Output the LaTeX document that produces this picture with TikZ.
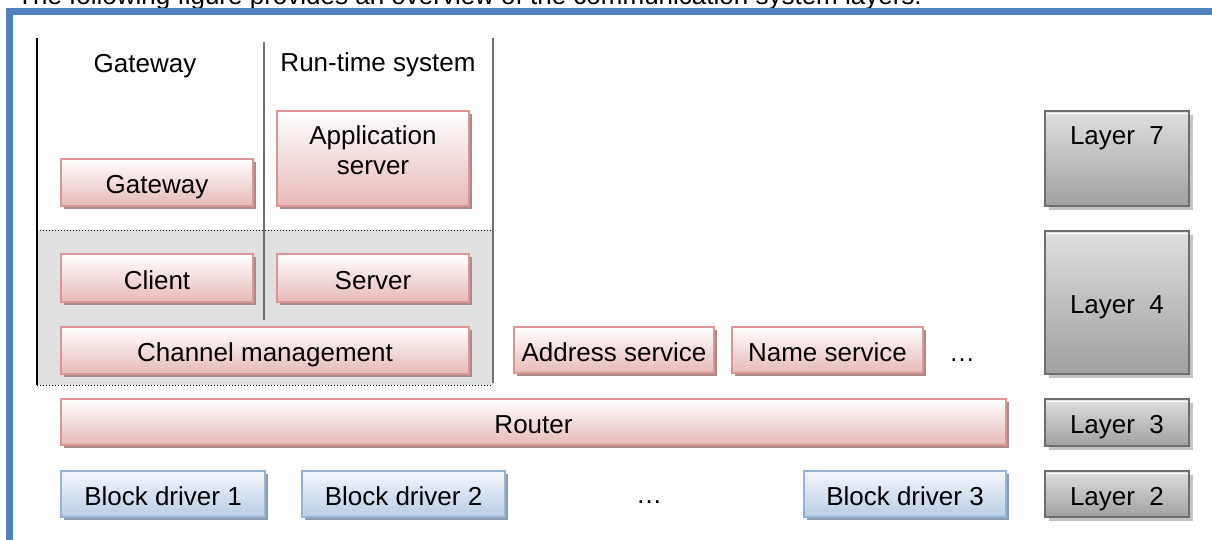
\documentclass[tikz,border=0pt]{standalone}
\usepackage{fontspec}
\setmainfont{Liberation Sans}
\usetikzlibrary{shadows}

\definecolor{frameblue}{HTML}{4F81BD}
\definecolor{pinkline}{HTML}{D99694}
\definecolor{pinktop}{HTML}{FFFFFF}
\definecolor{pinkbot}{HTML}{E6B9B8}
\definecolor{pinkshadow}{HTML}{A88A8A}
\definecolor{blueline}{HTML}{95B3D7}
\definecolor{bluetop}{HTML}{F4F7FB}
\definecolor{bluebot}{HTML}{B9CDE5}
\definecolor{blueshadow}{HTML}{8D9AAE}
\definecolor{grayline}{HTML}{6E6E6E}
\definecolor{graytop}{HTML}{DFDFDF}
\definecolor{graymid}{HTML}{D2D2D2}
\definecolor{graybot}{HTML}{A0A0A0}
\definecolor{grayshadow}{HTML}{C4C4C4}
\definecolor{zonegray}{HTML}{E0E0E0}
\definecolor{divider}{HTML}{707070}

\tikzset{
  boxbase/.style={inner sep=0pt, text height=22pt, text depth=0pt, line width=2pt},
  pinkbox/.style={boxbase, draw=pinkline, top color=pinktop, bottom color=pinkbot,
    drop shadow={shadow xshift=3pt, shadow yshift=-3pt, fill=pinkshadow, opacity=1}},
  bluebox/.style={boxbase, draw=blueline, top color=bluetop, bottom color=bluebot,
    drop shadow={shadow xshift=3pt, shadow yshift=-3pt, fill=blueshadow, opacity=1}},
  layerbox/.style={boxbase, line width=2.5pt, draw=grayline, top color=graytop,
    middle color=graymid, bottom color=graybot,
    drop shadow={shadow xshift=4pt, shadow yshift=-4pt, fill=grayshadow, opacity=1},
    path picture={\draw[white, line width=1.5pt]
      ([yshift=-2.5pt]path picture bounding box.north west) --
      ([yshift=-2.5pt]path picture bounding box.north east);}},
  caption/.style={anchor=base, inner sep=0pt},
}

\begin{document}
\begin{tikzpicture}[x=1pt, y=-1pt, font=\fontsize{26}{30}\selectfont]
\useasboundingbox (0,0) rectangle (1212,540);
\clip (0,0) rectangle (1212,540);

% introductory sentence, running off the top edge
\node[anchor=base west, inner sep=0pt] (intro) at (17,4.6)
  {The following figure provides an overview of the communication system layers.};

% frame
\draw[frameblue, line width=6.5pt] (9.5,560) -- (9.5,11.5) -- (1230,11.5);

% grey zone of layer 4 inside the left block
\fill[zonegray] (37,230) rectangle (493,385);
\draw[dotted, line width=1pt] (37,230) -- (493,230) (37,385) -- (493,385);

% column dividers
\draw[line width=1.3pt] (37,38) -- (37,385);
\draw[divider, line width=2pt] (264,42) -- (264,320);
\draw[divider, line width=2pt] (493,38) -- (493,383);

% column headings
\node[caption] (hgw) at (145,73) {Gateway};
\node[caption] (hrt) at (378,72) {Run-time system};

% layer 7
\node[pinkbox, minimum width=192pt, minimum height=47pt] (gw) at (157,182.5) {Gateway};
\node[pinkbox, minimum width=192pt, minimum height=95pt] (app) at (373,158.5) {};
\node[caption] (appa) at (373,145) {Application};
\node[caption] (apps) at (373,175) {server};

% layer 4
\node[pinkbox, minimum width=192pt, minimum height=48pt] (client) at (157,278) {Client};
\node[pinkbox, minimum width=192pt, minimum height=48pt] (server) at (373,278) {Server};
\node[pinkbox, minimum width=408pt, minimum height=47pt] (chan) at (265,350.5) {Channel management};
\node[pinkbox, minimum width=200pt, minimum height=46pt] (addr) at (614,350) {Address service};
\node[pinkbox, minimum width=191pt, minimum height=46pt] (name) at (827.5,350) {Name service};
\node[caption] (more4) at (962,361) {…};

% layer 3
\node[pinkbox, minimum width=945pt, minimum height=46pt] (router) at (533.5,422) {Router};

% layer 2
\node[bluebox, minimum width=204pt, minimum height=46pt] (bd1) at (163,494) {Block driver 1};
\node[bluebox, minimum width=203pt, minimum height=46pt] (bd2) at (403.5,494) {Block driver 2};
\node[caption] (more2) at (649,503) {…};
\node[bluebox, minimum width=202pt, minimum height=46pt] (bd3) at (905,494) {Block driver 3};

% layer labels
\node[layerbox, minimum width=144pt, minimum height=95pt] (l7) at (1117,158.5) {};
\node[caption] (l7t) at (1117,145) {Layer\ \ 7};
\node[layerbox, minimum width=144pt, minimum height=143pt] (l4) at (1117,302.5) {Layer\ \ 4};
\node[layerbox, minimum width=144pt, minimum height=47pt] (l3) at (1117,422.5) {Layer\ \ 3};
\node[layerbox, minimum width=144pt, minimum height=46pt] (l2) at (1117,494) {Layer\ \ 2};
\end{tikzpicture}
\end{document}
